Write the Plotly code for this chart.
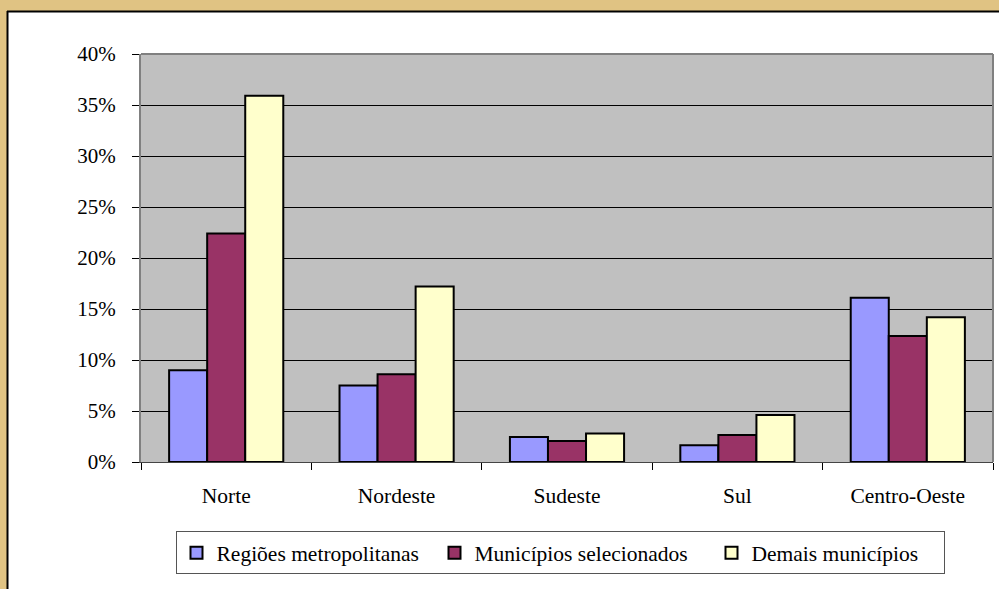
import plotly.graph_objects as go

regioes = ["Norte", "Nordeste", "Sudeste", "Sul", "Centro-Oeste"]
metropolitanas = [0.090, 0.075, 0.0245, 0.0165, 0.161]
selecionados = [0.224, 0.086, 0.0205, 0.0265, 0.1235]
demais = [0.359, 0.172, 0.028, 0.046, 0.142]

series = [
    ("Regiões metropolitanas", metropolitanas, "#9999FF", 213),
    ("Municípios selecionados", selecionados, "#993366", 232),
    ("Demais municípios", demais, "#FFFFCC", 187),
]

fig = go.Figure()
for nome, valores, cor, larg in series:
    fig.add_trace(go.Bar(
        x=regioes,
        y=valores,
        name=nome,
        legendwidth=larg,
        marker=dict(color=cor, line=dict(color="black", width=2)),
    ))

gold = "#E0C383"
font = "Liberation Serif, Times New Roman, serif"

fig.update_layout(
    width=999,
    height=589,
    margin=dict(l=141, r=6, t=54, b=127),
    paper_bgcolor="white",
    plot_bgcolor="#C0C0C0",
    barmode="group",
    bargap=0.33,
    bargroupgap=0,
    font=dict(family=font, size=21, color="black"),
    showlegend=True,
    legend=dict(
        orientation="h",
        x=(560 - 141) / 852, xanchor="center",
        y=-0.17, yanchor="top",
        bordercolor="#555555",
        borderwidth=1,
        bgcolor="white",
        font=dict(family=font, size=21.5, color="black"),
    ),
    xaxis=dict(
        showline=True, linecolor="#444444", linewidth=1,
        ticks="outside", ticklen=7, tickcolor="black",
        tickson="boundaries",
        ticklabelstandoff=14,
        tickfont=dict(family=font, size=21.5),
    ),
    yaxis=dict(
        range=[0, 0.4],
        dtick=0.05,
        tickformat=".0%",
        showgrid=True, gridcolor="black", gridwidth=1,
        showline=True, linecolor="#808080", linewidth=2,
        ticks="outside", ticklen=7, tickcolor="black",
        ticklabelstandoff=12,
        tickfont=dict(family=font, size=21),
        zeroline=False,
    ),
    shapes=[
        # gray frame on top and right of plot area
        dict(type="line", xref="paper", yref="paper", x0=0, x1=1, y0=1, y1=1,
             line=dict(color="#808080", width=2)),
        dict(type="line", xref="paper", yref="paper", x0=1, x1=1, y0=0, y1=1,
             line=dict(color="#808080", width=2)),
        # golden border around the white panel
        dict(type="rect", xref="paper", yref="paper",
             x0=-0.2, x1=1.1, y0=(462 - 11) / 408, y1=1.3,
             fillcolor=gold, line=dict(width=0), layer="above"),
        dict(type="rect", xref="paper", yref="paper",
             x0=-0.2, x1=(7 - 141) / 852, y0=-0.4, y1=1.3,
             fillcolor=gold, line=dict(width=0), layer="above"),
        dict(type="line", xref="paper", yref="paper",
             x0=(7 - 141) / 852, x1=1.1, y0=(462 - 11.5) / 408, y1=(462 - 11.5) / 408,
             line=dict(color="black", width=2)),
        dict(type="line", xref="paper", yref="paper",
             x0=(7.5 - 141) / 852, x1=(7.5 - 141) / 852, y0=-0.4, y1=(462 - 11) / 408,
             line=dict(color="black", width=2)),
    ],
)

fig.write_html(
    "out.html",
    config={"displayModeBar": False},
    post_script="document.body.style.margin='0';document.body.style.overflow='hidden';",
)
